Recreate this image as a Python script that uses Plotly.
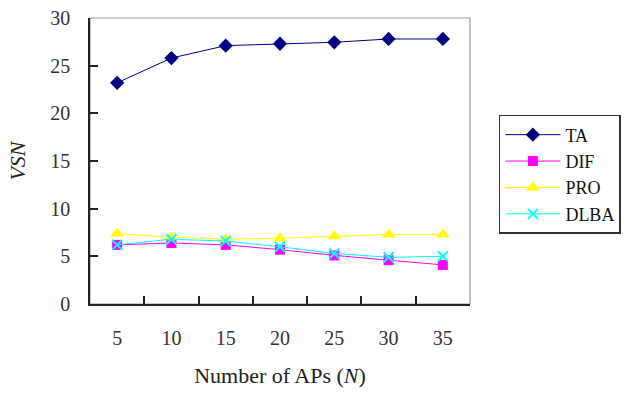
import plotly.graph_objects as go

# Number of access points (x categories)
n_aps = ["5", "10", "15", "20", "25", "30", "35"]

# VSN per scheme
ta = [23.2, 25.8, 27.1, 27.3, 27.45, 27.8, 27.8]
dif = [6.2, 6.4, 6.2, 5.7, 5.1, 4.6, 4.1]
pro = [7.4, 7.0, 6.8, 6.9, 7.1, 7.3, 7.3]
dlba = [6.2, 6.8, 6.6, 6.0, 5.3, 4.9, 5.0]

y_ticks = [0, 5, 10, 15, 20, 25, 30]

SERIF = "Times New Roman, Liberation Serif, serif"

series = [
    ("TA", ta, "#000080", dict(symbol="diamond", size=11)),
    ("DIF", dif, "#ff00ff", dict(symbol="square", size=10)),
    ("PRO", pro, "#ffff00", dict(symbol="triangle-up", size=12)),
    ("DLBA", dlba, "#00ffff", dict(symbol="x-thin-open", size=10,
                                   line=dict(width=2, color="#00ffff"))),
]

fig = go.Figure()
for name, vals, color, marker in series:
    m = dict(color=color)
    m.update(marker)
    fig.add_trace(go.Scatter(
        x=n_aps, y=vals, name=name, mode="lines+markers",
        line=dict(color=color, width=1), marker=m,
    ))

# Light grey frame on the top and right of the plot area
fig.add_shape(type="rect", xref="paper", yref="paper", x0=0, x1=1, y0=0, y1=1,
              line=dict(color="#999999", width=1.2), layer="below")

fig.update_layout(
    width=632, height=394,
    margin=dict(l=90, r=162, t=18, b=90, autoexpand=False),
    plot_bgcolor="white", paper_bgcolor="white",
    font=dict(family=SERIF, size=20, color="#333333"),
    showlegend=True,
    legend=dict(
        x=1.076, y=0.661, xanchor="left", yanchor="top",
        bordercolor="#333333", borderwidth=1.5, bgcolor="white",
        font=dict(family=SERIF, size=18, color="#111111"),
        tracegroupgap=0, itemwidth=55,
    ),
    xaxis=dict(
        type="category", range=[-0.5, 6.5], automargin=False,
        showline=True, linecolor="#222222", linewidth=1.5,
        ticks="inside", ticklen=8, tickcolor="#222222", tickwidth=1.5,
        tickson="boundaries", showgrid=False, zeroline=False,
        ticklabelstandoff=15,
        title=dict(text="Number of APs (<i>N</i>)", standoff=20,
                   font=dict(family=SERIF, size=22, color="#222222")),
    ),
    yaxis=dict(
        range=[0, 30], tickvals=y_ticks, automargin=False,
        showline=True, linecolor="#222222", linewidth=1.5,
        ticks="inside", ticklen=8, tickcolor="#222222", tickwidth=1.5,
        showgrid=False, zeroline=False,
        ticklabelstandoff=14,
        title=dict(text="<i>VSN</i>", standoff=19,
                   font=dict(family=SERIF, size=22, color="#222222")),
    ),
)

fig.write_html("out.html")
